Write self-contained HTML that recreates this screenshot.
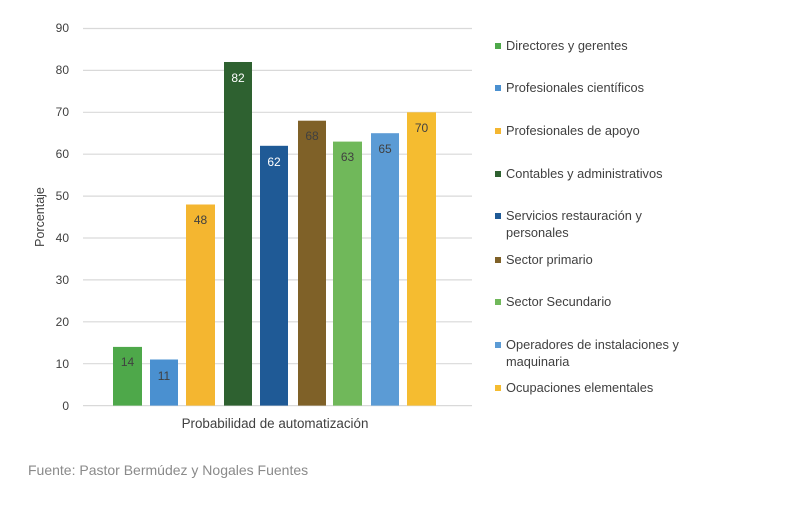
<!DOCTYPE html>
<html><head><meta charset="utf-8"><style>
body{margin:0;background:#fff;width:794px;height:500px;overflow:hidden;font-family:"Liberation Sans",sans-serif}
</style></head><body>
<svg width="794" height="500" xmlns="http://www.w3.org/2000/svg" font-family="Liberation Sans, sans-serif">
<g stroke="#d9d9d9" stroke-width="1.2">
<line x1="83" x2="472" y1="28.5" y2="28.5"/><line x1="83" x2="472" y1="70.4" y2="70.4"/>
<line x1="83" x2="472" y1="112.3" y2="112.3"/><line x1="83" x2="472" y1="154.2" y2="154.2"/>
<line x1="83" x2="472" y1="196.1" y2="196.1"/><line x1="83" x2="472" y1="238" y2="238"/>
<line x1="83" x2="472" y1="279.9" y2="279.9"/><line x1="83" x2="472" y1="321.8" y2="321.8"/>
<line x1="83" x2="472" y1="363.7" y2="363.7"/><line x1="83" x2="472" y1="405.6" y2="405.6"/>
</g>
<g font-size="12" fill="#404040" text-anchor="end">
<text x="69" y="32">90</text><text x="69" y="74">80</text><text x="69" y="116">70</text>
<text x="69" y="158">60</text><text x="69" y="200">50</text><text x="69" y="242">40</text>
<text x="69" y="284">30</text><text x="69" y="326">20</text><text x="69" y="368">10</text><text x="69" y="410">0</text>
</g>
<text transform="translate(44,217) rotate(-90)" font-size="12.5" fill="#404040" text-anchor="middle">Porcentaje</text>
<g>
<rect x="113" y="346.9" width="29" height="58.7" fill="#4ea84a"/>
<rect x="150" y="359.5" width="28" height="46.1" fill="#4a90d0"/>
<rect x="186" y="204.5" width="29" height="201.1" fill="#f4b630"/>
<rect x="224" y="62" width="28" height="343.6" fill="#2e6130"/>
<rect x="260" y="145.8" width="28" height="259.8" fill="#1f5a96"/>
<rect x="298" y="120.7" width="28" height="284.9" fill="#7f6128"/>
<rect x="333" y="141.6" width="29" height="264" fill="#70b85a"/>
<rect x="371" y="133.2" width="28" height="272.4" fill="#5b9bd5"/>
<rect x="407" y="112.3" width="29" height="293.3" fill="#f5bc30"/>
</g>
<g font-size="12" text-anchor="middle">
<text x="127.5" y="366" fill="#404040">14</text>
<text x="164" y="380" fill="#404040">11</text>
<text x="200.5" y="224" fill="#404040">48</text>
<text x="238" y="82" fill="#fff">82</text>
<text x="274" y="166" fill="#fff">62</text>
<text x="312" y="140" fill="#404040">68</text>
<text x="347.5" y="161" fill="#404040">63</text>
<text x="385" y="153" fill="#404040">65</text>
<text x="421.5" y="132" fill="#404040">70</text>
</g>
<text x="275" y="428" font-size="13.4" fill="#404040" text-anchor="middle">Probabilidad de automatización</text>
<g font-size="12.8" fill="#404040">
<rect x="495" y="43" width="6" height="6" fill="#4ea84a"/><text x="506" y="50">Directores y gerentes</text>
<rect x="495" y="85" width="6" height="6" fill="#4a90d0"/><text x="506" y="92">Profesionales científicos</text>
<rect x="495" y="128" width="6" height="6" fill="#f4b630"/><text x="506" y="135">Profesionales de apoyo</text>
<rect x="495" y="171" width="6" height="6" fill="#2e6130"/><text x="506" y="178">Contables y administrativos</text>
<rect x="495" y="213" width="6" height="6" fill="#1f5a96"/><text x="506" y="220">Servicios restauración y</text><text x="506" y="237">personales</text>
<rect x="495" y="257" width="6" height="6" fill="#7f6128"/><text x="506" y="264">Sector primario</text>
<rect x="495" y="299" width="6" height="6" fill="#70b85a"/><text x="506" y="306">Sector Secundario</text>
<rect x="495" y="342" width="6" height="6" fill="#5b9bd5"/><text x="506" y="349">Operadores de instalaciones y</text><text x="506" y="366">maquinaria</text>
<rect x="495" y="385" width="6" height="6" fill="#f5bc30"/><text x="506" y="392">Ocupaciones elementales</text>
</g>
<text x="28" y="475" font-size="14" fill="#8a8a8a">Fuente: Pastor Bermúdez y Nogales Fuentes</text>
</svg>
</body></html>
